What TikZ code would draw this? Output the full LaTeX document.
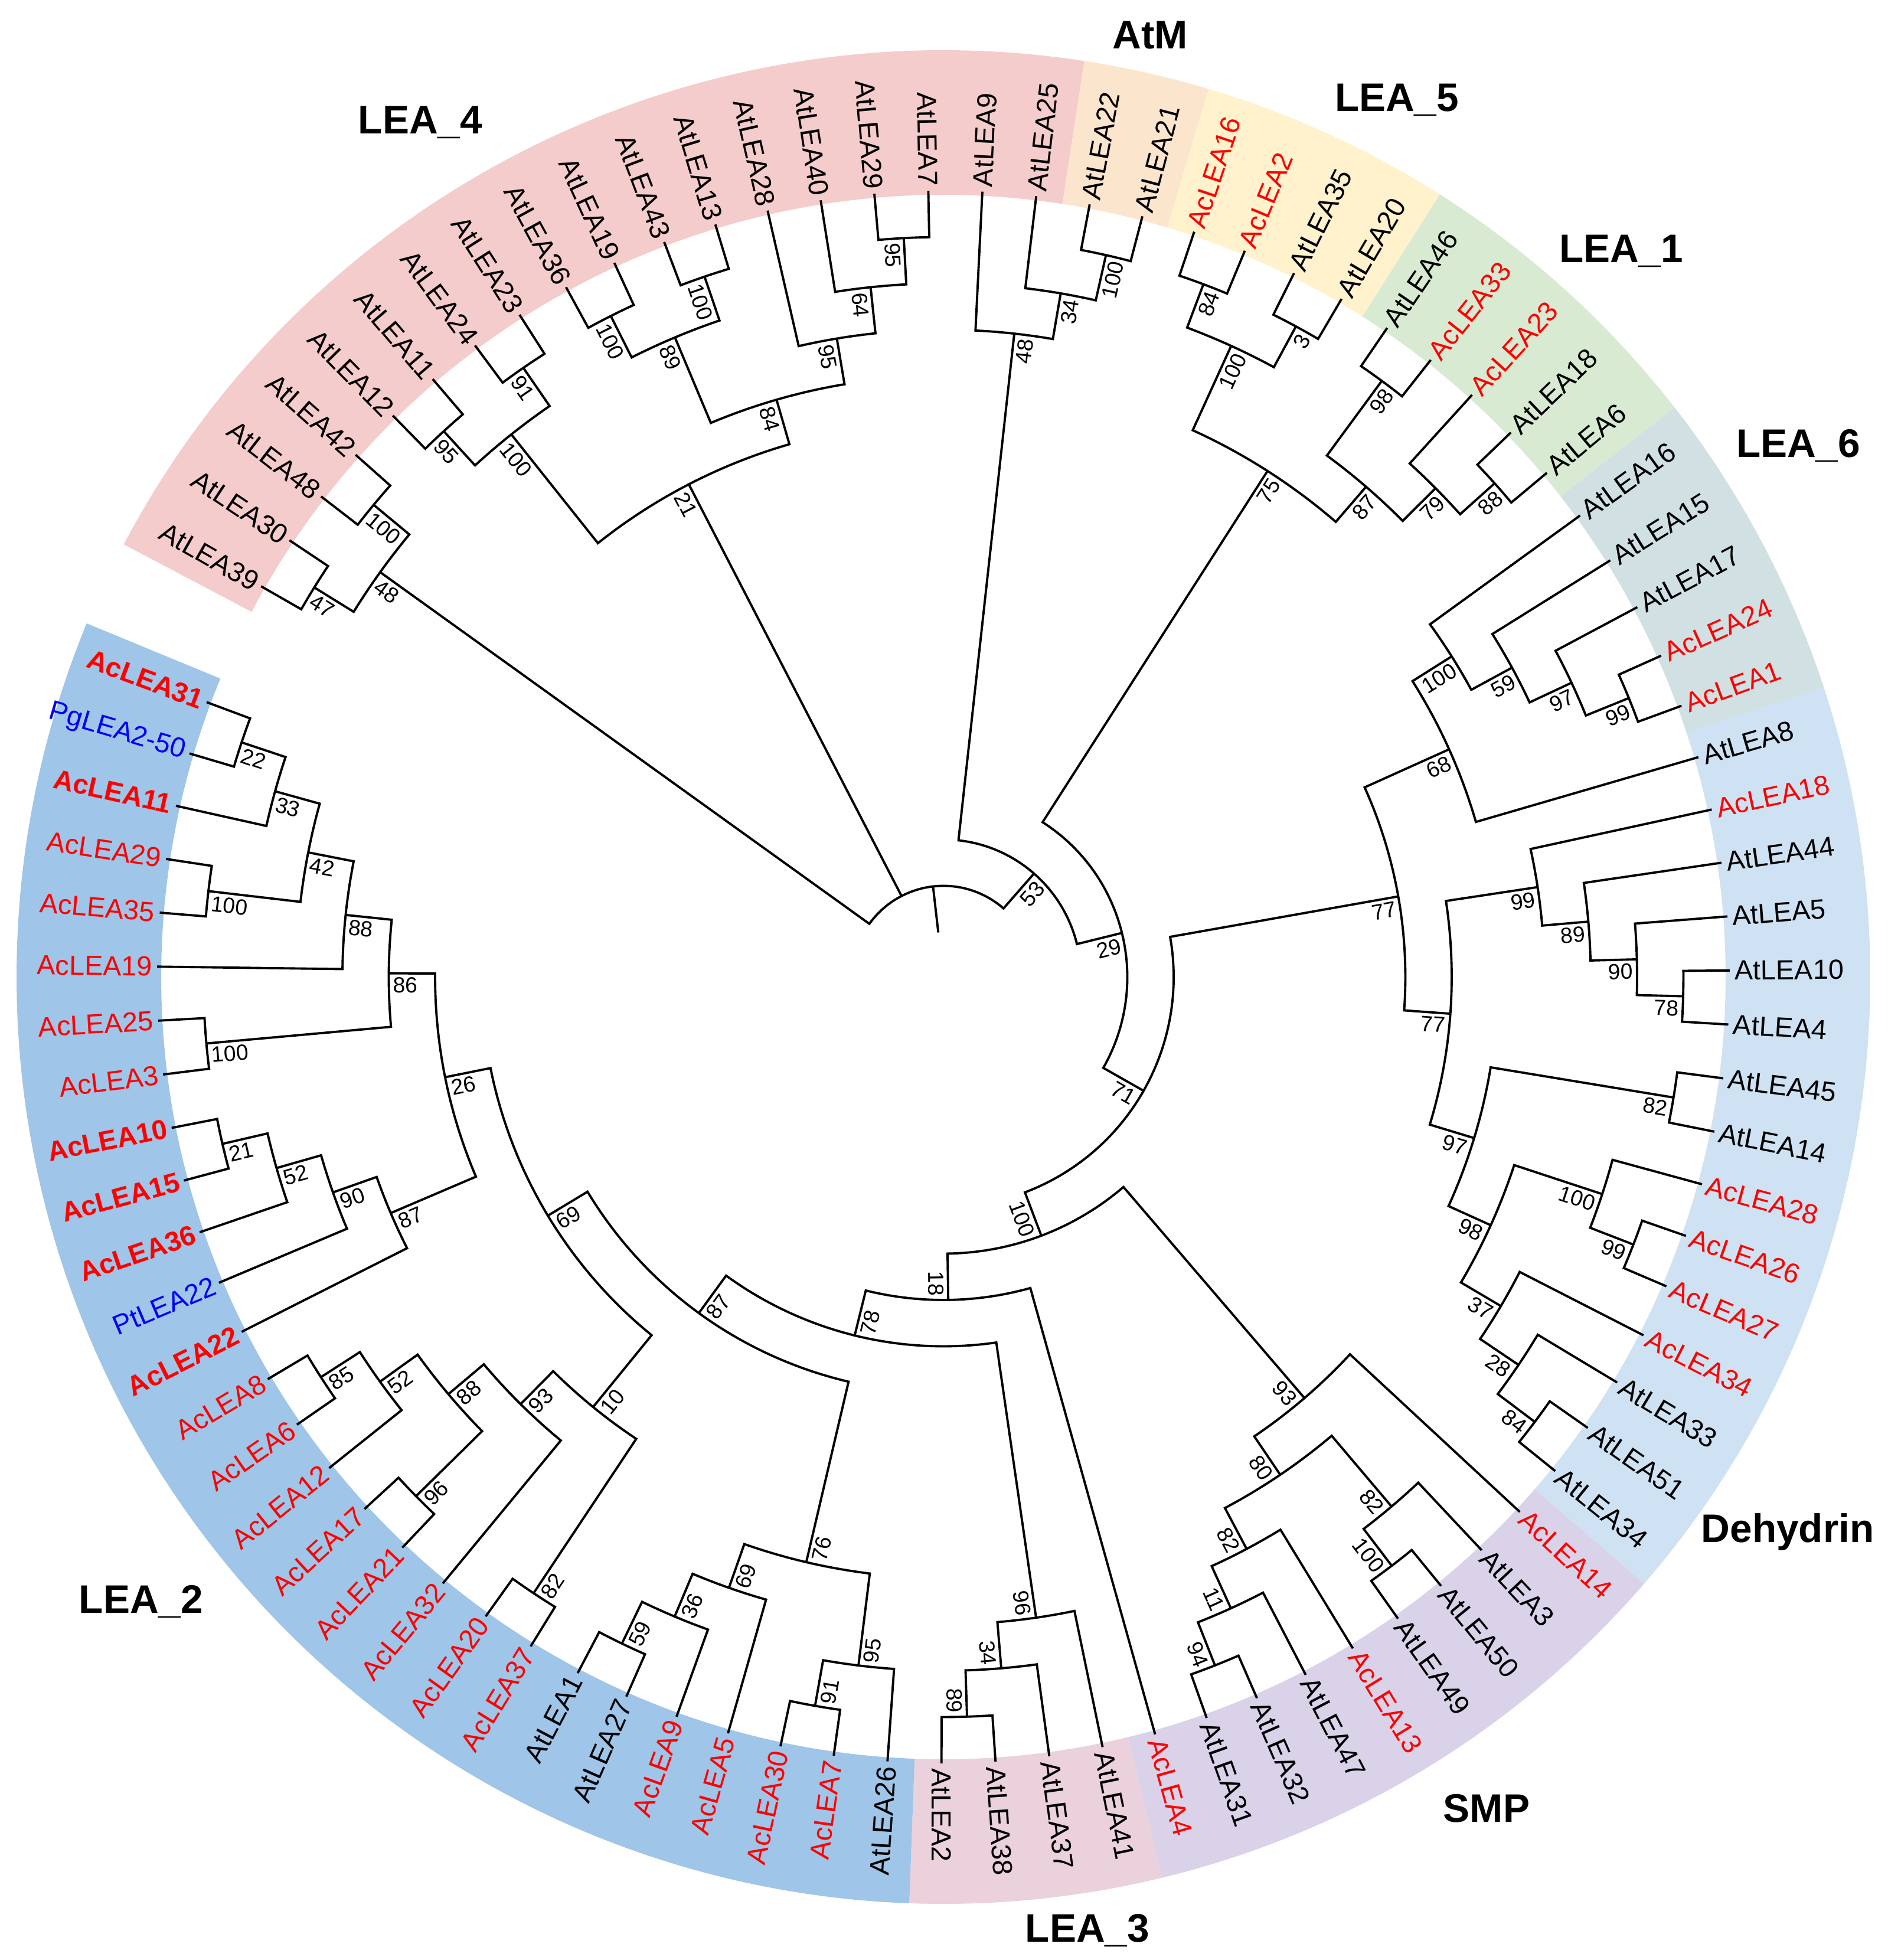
\documentclass[tikz,border=0pt]{standalone}
\usepackage{fontspec}
\setmainfont{Liberation Sans}

\definecolor{lea4}{HTML}{F4CCCC}
\definecolor{atm}{HTML}{FCE5CD}
\definecolor{lea5}{HTML}{FFF2CC}
\definecolor{lea1}{HTML}{D9EAD3}
\definecolor{lea6}{HTML}{D0E0E3}
\definecolor{dehyd}{HTML}{CFE2F3}
\definecolor{smp}{HTML}{D9D2E9}
\definecolor{lea3}{HTML}{EAD1DC}
\definecolor{lea2}{HTML}{9FC5E8}

% tree geometry (cm)
\def\tzero{150.2}  % angle of the first leaf
\def\tstep{3.94}   % angle between two leaves
\def\rleaf{13.32}  % radius of the leaf tips
\def\rlab{13.35}   % radius where the names start
\def\rstep{0.785}  % radius of one level
\def\rin{13.25}
\def\rout{15.70}

% coloured sector of the ring
\newcommand\band[3]{%
  \pgfmathsetmacro\lbA{\tzero-\tstep*(#1)}%
  \pgfmathsetmacro\lbB{\tzero-\tstep*(#2)}%
  \fill[#3] (\lbA:\rin) arc[start angle=\lbA, end angle=\lbB, radius=\rin]
    -- (\lbB:\rout) arc[start angle=\lbB, end angle=\lbA, radius=\rout] -- cycle;
}

% leaf: position, name, style
\newcommand\leaf[3]{%
  \pgfmathsetmacro\llT{\tzero-\tstep*#1}%
  \expandafter\xdef\csname p@#2\endcsname{#1}%
  \coordinate (#2) at (\llT:\rleaf);
  \pgfmathsetmacro\llC{cos(\llT)}%
  \ifdim\llC pt<-0.01pt
    \node[leaflab,#3,anchor=east,rotate=\llT+180] (t-#2) at (\llT:\rlab) {#2};
  \else
    \node[leaflab,#3,anchor=west,rotate=\llT] (t-#2) at (\llT:\rlab) {#2};
  \fi
}

% clade: name, first child, second child, level, support
\newcommand\clade[5]{%
  \pgfmathsetmacro\lpA{\csname p@#2\endcsname}%
  \pgfmathsetmacro\lpB{\csname p@#3\endcsname}%
  \pgfmathsetmacro\lpN{(\lpA+\lpB)/2}%
  \expandafter\xdef\csname p@#1\endcsname{\lpN}%
  \pgfmathsetmacro\laA{\tzero-\tstep*\lpA}%
  \pgfmathsetmacro\laB{\tzero-\tstep*\lpB}%
  \pgfmathsetmacro\laN{\tzero-\tstep*\lpN}%
  \pgfmathsetmacro\lrN{\rleaf-\rstep*#4}%
  \coordinate (#1) at (\laN:\lrN);
  \coordinate (#2-up) at (\laA:\lrN);
  \coordinate (#3-up) at (\laB:\lrN);
  \draw (#2) -- (#2-up) arc[start angle=\laA, end angle=\laB, radius=\lrN] -- (#3);
  \if\relax\detokenize{#5}\relax\else
    \pgfmathsetmacro\lcN{cos(\laN)}%
    \ifdim\lcN pt<-0.01pt
      \node[boot,anchor=north west,rotate=\laN+180] (s-#1) at (#1) {#5};
    \else
      \node[boot,anchor=north east,rotate=\laN] (s-#1) at (#1) {#5};
    \fi
  \fi
}

\begin{document}
\begin{tikzpicture}[line width=1.1pt,
  leaflab/.style={inner sep=1pt, font=\fontsize{13.3}{16}\selectfont},
  leafAt/.style={text=black},
  leafAc/.style={text=red},
  leafAcB/.style={text=red, font=\fontsize{13.3}{16}\selectfont\bfseries},
  leafOut/.style={text=blue},
  boot/.style={inner sep=1.5pt, font=\fontsize{10.6}{12}\selectfont},
  grouplab/.style={font=\fontsize{19.2}{23}\selectfont\bfseries}]
\useasboundingbox (-15.98,-16.65) rectangle (15.99,16.55);

% ring of the families
\band{-0.5}{17.5}{lea4}
\band{17.5}{19.5}{atm}
\band{19.5}{23.5}{lea5}
\band{23.5}{28.5}{lea1}
\band{28.5}{33.5}{lea6}
\band{33.5}{48.5}{dehyd}
\band{48.5}{57.5}{smp}
\band{57.5}{61.5}{lea3}
\band{61.5}{89.5}{lea2}

% leaves
\leaf{0}{AtLEA39}{leafAt}
\leaf{1}{AtLEA30}{leafAt}
\leaf{2}{AtLEA48}{leafAt}
\leaf{3}{AtLEA42}{leafAt}
\leaf{4}{AtLEA12}{leafAt}
\leaf{5}{AtLEA11}{leafAt}
\leaf{6}{AtLEA24}{leafAt}
\leaf{7}{AtLEA23}{leafAt}
\leaf{8}{AtLEA36}{leafAt}
\leaf{9}{AtLEA19}{leafAt}
\leaf{10}{AtLEA43}{leafAt}
\leaf{11}{AtLEA13}{leafAt}
\leaf{12}{AtLEA28}{leafAt}
\leaf{13}{AtLEA40}{leafAt}
\leaf{14}{AtLEA29}{leafAt}
\leaf{15}{AtLEA7}{leafAt}
\leaf{16}{AtLEA9}{leafAt}
\leaf{17}{AtLEA25}{leafAt}
\leaf{18}{AtLEA22}{leafAt}
\leaf{19}{AtLEA21}{leafAt}
\leaf{20}{AcLEA16}{leafAc}
\leaf{21}{AcLEA2}{leafAc}
\leaf{22}{AtLEA35}{leafAt}
\leaf{23}{AtLEA20}{leafAt}
\leaf{24}{AtLEA46}{leafAt}
\leaf{25}{AcLEA33}{leafAc}
\leaf{26}{AcLEA23}{leafAc}
\leaf{27}{AtLEA18}{leafAt}
\leaf{28}{AtLEA6}{leafAt}
\leaf{29}{AtLEA16}{leafAt}
\leaf{30}{AtLEA15}{leafAt}
\leaf{31}{AtLEA17}{leafAt}
\leaf{32}{AcLEA24}{leafAc}
\leaf{33}{AcLEA1}{leafAc}
\leaf{34}{AtLEA8}{leafAt}
\leaf{35}{AcLEA18}{leafAc}
\leaf{36}{AtLEA44}{leafAt}
\leaf{37}{AtLEA5}{leafAt}
\leaf{38}{AtLEA10}{leafAt}
\leaf{39}{AtLEA4}{leafAt}
\leaf{40}{AtLEA45}{leafAt}
\leaf{41}{AtLEA14}{leafAt}
\leaf{42}{AcLEA28}{leafAc}
\leaf{43}{AcLEA26}{leafAc}
\leaf{44}{AcLEA27}{leafAc}
\leaf{45}{AcLEA34}{leafAc}
\leaf{46}{AtLEA33}{leafAt}
\leaf{47}{AtLEA51}{leafAt}
\leaf{48}{AtLEA34}{leafAt}
\leaf{49}{AcLEA14}{leafAc}
\leaf{50}{AtLEA3}{leafAt}
\leaf{51}{AtLEA50}{leafAt}
\leaf{52}{AtLEA49}{leafAt}
\leaf{53}{AcLEA13}{leafAc}
\leaf{54}{AtLEA47}{leafAt}
\leaf{55}{AtLEA32}{leafAt}
\leaf{56}{AtLEA31}{leafAt}
\leaf{57}{AcLEA4}{leafAc}
\leaf{58}{AtLEA41}{leafAt}
\leaf{59}{AtLEA37}{leafAt}
\leaf{60}{AtLEA38}{leafAt}
\leaf{61}{AtLEA2}{leafAt}
\leaf{62}{AtLEA26}{leafAt}
\leaf{63}{AcLEA7}{leafAc}
\leaf{64}{AcLEA30}{leafAc}
\leaf{65}{AcLEA5}{leafAc}
\leaf{66}{AcLEA9}{leafAc}
\leaf{67}{AtLEA27}{leafAt}
\leaf{68}{AtLEA1}{leafAt}
\leaf{69}{AcLEA37}{leafAc}
\leaf{70}{AcLEA20}{leafAc}
\leaf{71}{AcLEA32}{leafAc}
\leaf{72}{AcLEA21}{leafAc}
\leaf{73}{AcLEA17}{leafAc}
\leaf{74}{AcLEA12}{leafAc}
\leaf{75}{AcLEA6}{leafAc}
\leaf{76}{AcLEA8}{leafAc}
\leaf{77}{AcLEA22}{leafAcB}
\leaf{78}{PtLEA22}{leafOut}
\leaf{79}{AcLEA36}{leafAcB}
\leaf{80}{AcLEA15}{leafAcB}
\leaf{81}{AcLEA10}{leafAcB}
\leaf{82}{AcLEA3}{leafAc}
\leaf{83}{AcLEA25}{leafAc}
\leaf{84}{AcLEA19}{leafAc}
\leaf{85}{AcLEA35}{leafAc}
\leaf{86}{AcLEA29}{leafAc}
\leaf{87}{AcLEA11}{leafAcB}
\leaf{88}{PgLEA2-50}{leafOut}
\leaf{89}{AcLEA31}{leafAcB}

% LEA_4
\clade{b47}{AtLEA39}{AtLEA30}{1}{47}
\clade{b100a}{AtLEA48}{AtLEA42}{1}{100}
\clade{b48a}{b47}{b100a}{2}{48}
\clade{b95a}{AtLEA12}{AtLEA11}{1}{95}
\clade{b91a}{AtLEA24}{AtLEA23}{1}{91}
\clade{b100b}{b95a}{b91a}{2}{100}
\clade{b100c}{AtLEA36}{AtLEA19}{1}{100}
\clade{b100d}{AtLEA43}{AtLEA13}{1}{100}
\clade{b89a}{b100c}{b100d}{2}{89}
\clade{b95b}{AtLEA29}{AtLEA7}{1}{95}
\clade{b64}{AtLEA40}{b95b}{2}{64}
\clade{b95c}{AtLEA28}{b64}{3}{95}
\clade{b84a}{b89a}{b95c}{4}{84}
\clade{b21a}{b100b}{b84a}{5}{21}

% AtM
\clade{b100e}{AtLEA22}{AtLEA21}{1}{100}
\clade{b34a}{AtLEA25}{b100e}{2}{34}
\clade{b48b}{AtLEA9}{b34a}{3}{48}

% LEA_5 and LEA_1
\clade{b84b}{AcLEA16}{AcLEA2}{1}{84}
\clade{b3}{AtLEA35}{AtLEA20}{1}{3}
\clade{b100f}{b84b}{b3}{2}{100}
\clade{b98a}{AtLEA46}{AcLEA33}{1}{98}
\clade{b88a}{AtLEA18}{AtLEA6}{1}{88}
\clade{b79}{AcLEA23}{b88a}{2}{79}
\clade{b87a}{b98a}{b79}{3}{87}
\clade{b75}{b100f}{b87a}{4}{75}

% LEA_6
\clade{b99a}{AcLEA24}{AcLEA1}{1}{99}
\clade{b97a}{AtLEA17}{b99a}{2}{97}
\clade{b59a}{AtLEA15}{b97a}{3}{59}
\clade{b100g}{AtLEA16}{b59a}{4}{100}
\clade{b68}{b100g}{AtLEA8}{5}{68}

% Dehydrin
\clade{b78a}{AtLEA10}{AtLEA4}{1}{78}
\clade{b90a}{AtLEA5}{b78a}{2}{90}
\clade{b89b}{AtLEA44}{b90a}{3}{89}
\clade{b99b}{AcLEA18}{b89b}{4}{99}
\clade{b82a}{AtLEA45}{AtLEA14}{1}{82}
\clade{b99c}{AcLEA26}{AcLEA27}{1}{99}
\clade{b100h}{AcLEA28}{b99c}{2}{100}
\clade{b84c}{AtLEA51}{AtLEA34}{1}{84}
\clade{b28}{AtLEA33}{b84c}{2}{28}
\clade{b37}{AcLEA34}{b28}{3}{37}
\clade{b98b}{b100h}{b37}{4}{98}
\clade{b97b}{b82a}{b98b}{5}{97}
\clade{b77a}{b99b}{b97b}{6}{77}
\clade{b77b}{b68}{b77a}{7}{77}

% SMP
\clade{b100i}{AtLEA50}{AtLEA49}{1}{100}
\clade{b82b}{AtLEA3}{b100i}{2}{82}
\clade{b94}{AtLEA32}{AtLEA31}{1}{94}
\clade{b11}{AtLEA47}{b94}{2}{11}
\clade{b82c}{AcLEA13}{b11}{3}{82}
\clade{b80}{b82b}{b82c}{4}{80}
\clade{b93a}{AcLEA14}{b80}{5}{93}

% LEA_3
\clade{b89c}{AtLEA38}{AtLEA2}{1}{89}
\clade{b34b}{AtLEA37}{b89c}{2}{34}
\clade{b96a}{AtLEA41}{b34b}{3}{96}

% LEA_2
\clade{b91b}{AcLEA7}{AcLEA30}{1}{91}
\clade{b95d}{AtLEA26}{b91b}{2}{95}
\clade{b59b}{AtLEA27}{AtLEA1}{1}{59}
\clade{b36}{AcLEA9}{b59b}{2}{36}
\clade{b69a}{AcLEA5}{b36}{3}{69}
\clade{b76}{b95d}{b69a}{4}{76}
\clade{b82d}{AcLEA37}{AcLEA20}{1}{82}
\clade{b96b}{AcLEA21}{AcLEA17}{1}{96}
\clade{b85}{AcLEA6}{AcLEA8}{1}{85}
\clade{b52a}{AcLEA12}{b85}{2}{52}
\clade{b88b}{b96b}{b52a}{3}{88}
\clade{b93b}{AcLEA32}{b88b}{4}{93}
\clade{b10}{b82d}{b93b}{5}{10}
\clade{b21b}{AcLEA15}{AcLEA10}{1}{21}
\clade{b52b}{AcLEA36}{b21b}{2}{52}
\clade{b90b}{PtLEA22}{b52b}{3}{90}
\clade{b87b}{AcLEA22}{b90b}{4}{87}
\clade{b100j}{AcLEA3}{AcLEA25}{1}{100}
\clade{b100k}{AcLEA35}{AcLEA29}{1}{100}
\clade{b22}{PgLEA2-50}{AcLEA31}{1}{22}
\clade{b33}{AcLEA11}{b22}{2}{33}
\clade{b42}{b100k}{b33}{3}{42}
\clade{b88c}{AcLEA19}{b42}{4}{88}
\clade{b86}{b100j}{b88c}{5}{86}
\clade{b26}{b87b}{b86}{6}{26}
\clade{b69b}{b10}{b26}{7}{69}
\clade{b87c}{b76}{b69b}{8}{87}

% backbone
\clade{b78b}{b96a}{b87c}{9}{78}
\clade{b18}{AcLEA4}{b78b}{10}{18}
\clade{b100l}{b93a}{b18}{11}{100}
\clade{b71}{b77b}{b100l}{12}{71}
\clade{b29}{b75}{b71}{13}{29}
\clade{b53}{b48b}{b29}{14}{53}
\clade{root}{b48a}{b53}{15}{}
\pgfmathsetmacro\laN{\tzero-\tstep*\csname p@b21a\endcsname}
\pgfmathsetmacro\lrN{\rleaf-\rstep*15}
\coordinate (b21a-up) at (\laN:\lrN);
\draw (b21a-up) -- (b21a);
\pgfmathsetmacro\laN{\tzero-\tstep*\csname p@root\endcsname}
\pgfmathsetmacro\lrN{\rleaf-\rstep*16}
\coordinate (root-in) at (\laN:\lrN);
\draw (root) -- (root-in);

% family names
\node[grouplab] (g-lea4) at (-8.86,14.48) {LEA\_4};
\node[grouplab] (g-atm)  at (3.50,15.95)  {AtM};
\node[grouplab] (g-lea5) at (7.68,14.86)  {LEA\_5};
\node[grouplab] (g-lea1) at (11.48,12.30) {LEA\_1};
\node[grouplab] (g-lea6) at (14.48,9.00)  {LEA\_6};
\node[grouplab] (g-dehy) at (14.30,-9.40) {Dehydrin};
\node[grouplab] (g-smp)  at (9.20,-14.08) {SMP};
\node[grouplab] (g-lea3) at (2.44,-16.15) {LEA\_3};
\node[grouplab] (g-lea2) at (-13.59,-10.58) {LEA\_2};

\end{tikzpicture}
\end{document}
